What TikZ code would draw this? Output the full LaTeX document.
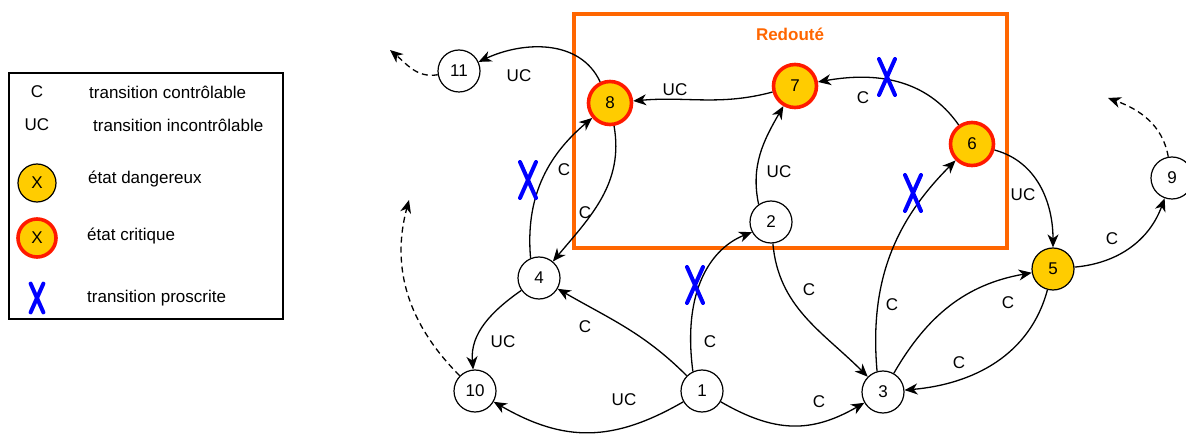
\documentclass[tikz,border=0pt]{standalone}
\usepackage{fontspec}
\setmainfont{Liberation Sans}
\usetikzlibrary{arrows.meta}
\definecolor{dyellow}{HTML}{FFCC00}
\definecolor{cred}{HTML}{FF1A00}
\definecolor{orangebox}{HTML}{FF6600}
\definecolor{xblue}{HTML}{0000FF}
\tikzset{
  pics/proscrit/.style={code={\draw[xmark] (-8,-18) -- (8,18) (8,-18) -- (-8,18);}}
}
\begin{document}
\begin{tikzpicture}[x=1pt,y=1pt,
  font=\fontsize{17}{20}\selectfont,
  st/.style={circle,draw,line width=1.2pt,minimum size=42pt,inner sep=0pt,fill=white},
  danger/.style={st,fill=dyellow},
  crit/.style={st,fill=dyellow,draw=cred,line width=3.6pt,minimum size=43pt},
  edge/.style={-{Stealth[length=13pt,width=11pt,inset=4pt]},line width=1.3pt},
  dedge/.style={edge,dash pattern=on 6pt off 4pt},
  lbl/.style={inner sep=0pt},
  xmark/.style={xblue,line width=4pt,line cap=round}]
\useasboundingbox (0,0) rectangle (1186,434);

% legend
\draw[line width=1.2pt] (9,115) rectangle (283,361);
\node[lbl] (lgC) at (37,342) {C};
\node[lbl,anchor=west] (lgCt) at (89,342) {transition contrôlable};
\node[lbl] (lgUC) at (37,309) {UC};
\node[lbl,anchor=west] (lgUCt) at (93,309) {transition incontrôlable};
\node[danger,minimum size=38pt] (lgD) at (37,251) {X};
\node[lbl,anchor=west] (lgDt) at (88,255) {état dangereux};
\node[crit,minimum size=38pt] (lgR) at (37,196) {X};
\node[lbl,anchor=west] (lgRt) at (87,198) {état critique};
\pic[scale=0.8] at (37,136) {proscrit};
\node[lbl,anchor=west] (lgXt) at (87,136) {transition proscrite};

% feared region
\draw[orangebox,line width=3.8pt] (574,186) rectangle (1007,420);
\node[lbl,text=orangebox,font=\fontsize{17}{20}\selectfont\bfseries] (red) at (790,400) {Redouté};

% states
\node[st] (n11) at (459,363) {11};
\node[crit] (n8) at (610,331) {8};
\node[crit] (n7) at (795,348) {7};
\node[crit] (n6) at (972,290) {6};
\node[st] (n2) at (771,212) {2};
\node[st] (n4) at (539,156) {4};
\node[st] (n10) at (475,43) {10};
\node[st] (n1) at (702,43) {1};
\node[st] (n3) at (883,42) {3};
\node[danger] (n5) at (1053,165) {5};
\node[st] (n9) at (1172,256) {9};

\coordinate (d11) at (390,384);
\coordinate (d10) at (409,234);
\coordinate (d9) at (1108,336);
\coordinate (c12a) at (682,145);
\coordinate (c12b) at (712,186);

% transitions
\draw[edge] (n8) to[out=115,in=25] (n11);
\draw[dedge] (n11) to[out=190,in=-40] (d11);
\draw[edge] (n7) to[out=195,in=5] (n8);
\draw[edge] (n6) to[out=125,in=10] (n7);
\draw[edge] (n2.125) to[out=102,in=-120] (n7);
\draw[edge] (n4.113) to[out=95,in=-140] (n8);
\draw[edge] (n8) to[out=-80,in=50] (n4);
\draw[edge] (n1.115) .. controls (c12a) and (c12b) .. (n2.208);
\draw[edge] (n1) to[out=135,in=-30] (n4);
\draw[edge] (n4) to[out=215,in=95] (n10);
\draw[dedge] (n10) to[out=135,in=-105] (d10);
\draw[edge] (n1) to[out=-150,in=-30,looseness=1.1] (n10);
\draw[edge] (n1) to[out=-30,in=-150,looseness=1.1] (n3);
\draw[edge] (n2) to[out=-85,in=135] (n3);
\draw[edge] (n3.106) to[out=95,in=-135] (n6);
\draw[edge] (n3) to[out=60,in=190] (n5);
\draw[edge] (n5) to[out=-105,in=5] (n3);
\draw[edge] (n6) to[out=-15,in=90] (n5);
\draw[edge] (n5) to[out=5,in=-110] (n9);
\draw[dedge] (n9) to[out=100,in=-20] (d9);

% proscribed transitions
\pic at (528,254) {proscrit};
\pic at (887,357) {proscrit};
\pic at (913,241) {proscrit};
\pic at (695,149) {proscrit};

% labels
\node[lbl] (l1) at (519,358) {UC};
\node[lbl] (l2) at (675,344) {UC};
\node[lbl] (l3) at (564,264) {C};
\node[lbl] (l4) at (585,221) {C};
\node[lbl] (l5) at (863,336) {C};
\node[lbl] (l6) at (779,262) {UC};
\node[lbl] (l7) at (1023,239) {UC};
\node[lbl] (l8) at (1112,195) {C};
\node[lbl] (l9) at (809,144) {C};
\node[lbl] (l10) at (892,129) {C};
\node[lbl] (l11) at (585,107) {C};
\node[lbl] (l12) at (710,92) {C};
\node[lbl] (l13) at (503,92) {UC};
\node[lbl] (l14) at (624,34) {UC};
\node[lbl] (l15) at (819,32) {C};
\node[lbl] (l16) at (1008,131) {C};
\node[lbl] (l17) at (959,71) {C};
\end{tikzpicture}
\end{document}
